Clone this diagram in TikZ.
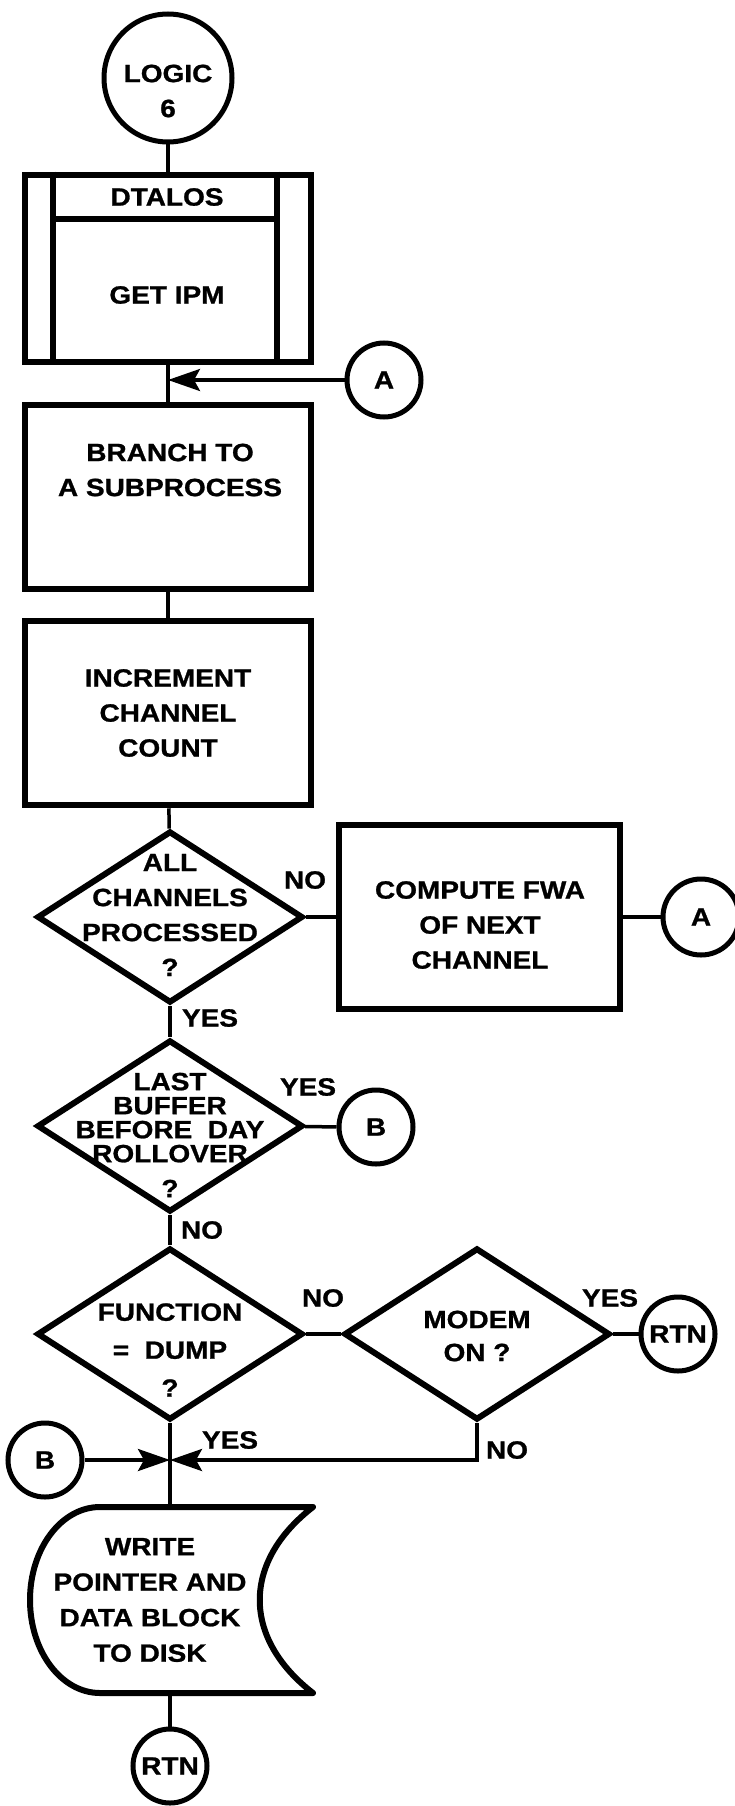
\documentclass[tikz,border=0pt]{standalone}
\usepackage{fontspec}
\setmainfont{Liberation Sans}[FakeStretch=1.12,FakeBold=1]
\usetikzlibrary{shapes.geometric,arrows.meta,calc}
\begin{document}
\begin{tikzpicture}[x=1pt,y=-1pt,
  every node/.style={font=\fontsize{25}{35}\selectfont\bfseries, inner sep=0pt, align=center},
  proc/.style={draw, rectangle, line width=6.5pt, minimum width=286pt, minimum height=184pt},
  dia/.style={draw, diamond, line width=6pt, minimum width=266pt, minimum height=172pt},
  conn/.style={draw, circle, line width=5pt, minimum size=74pt},
  flow/.style={line width=3.5pt},
  arr/.style={flow, -{Stealth[length=32pt,width=22pt,inset=6pt]}},
  inner/.style={line width=6pt}
]
\useasboundingbox (0,0) rectangle (735,1806);

% start
\node[conn, minimum size=128pt] (logic) at (168,78) {};
\node (logict) at (168,91) {LOGIC\\6};

% predefined process
\node[proc, minimum height=187pt] (dtalos) at (168,268.5) {};
\draw[inner] ($(dtalos.north west)+(31,0)$) -- ($(dtalos.south west)+(31,0)$);
\draw[inner] ($(dtalos.north east)+(-37,0)$) -- ($(dtalos.south east)+(-37,0)$);
\draw[inner] ($(dtalos.north west)+(31,47)$) -- ($(dtalos.north east)+(-37,47)$);
\node (dtalost) at (167,197) {DTALOS};
\node (getipm) at (167,295) {GET IPM};

\node[conn] (A1) at (384,380) {A};
\coordinate (jA) at (168,380);

\node[proc] (branch) at (168,497) {};
\node (brancht) at (170,470) {BRANCH TO\\A SUBPROCESS};

\node[proc] (incr) at (168,713) {INCREMENT\\CHANNEL\\COUNT};

% decision 1
\node[dia] (d1) at (170,917) {};
\node (d1t) at (170,915) {ALL\\CHANNELS\\PROCESSED\\?};
\node[proc, minimum width=281pt] (comp) at (479.5,917) {};
\node (compt) at (480,925) {COMPUTE FWA\\OF NEXT\\CHANNEL};
\node[conn, minimum size=76pt] (A2) at (701,917) {A};

% decision 2
\node[dia] (d2) at (170,1126) {};
\node[font=\fontsize{25}{24}\selectfont\bfseries] (d2t) at (170,1135) {LAST\\BUFFER\\BEFORE\ \ DAY\\ROLLOVER\\[11pt]?};
\node[conn] (B1) at (376,1127) {B};

% decision 3 and 4
\node[dia] (d3) at (170,1334) {};
\node[font=\fontsize{25}{38}\selectfont\bfseries] (d3t) at (170,1350) {FUNCTION\\=\ \ DUMP\\?};
\node[dia] (d4) at (477,1334) {};
\node[font=\fontsize{25}{33}\selectfont\bfseries] (d4t) at (477,1336) {MODEM\\ON ?};
\node[conn] (R1) at (678,1334) {RTN};

\coordinate (jB) at (170,1460);
\node[conn] (B2) at (45,1460) {B};

% stored data
\coordinate (disktop) at (170,1507);
\coordinate (diskbot) at (170,1693);
\draw[line width=6pt, line join=round] (100,1507) -- (313,1507)
  .. controls (242,1562) and (242,1638) .. (313,1693) -- (100,1693)
  .. controls (61.3,1693) and (30,1651.4) .. (30,1600)
  .. controls (30,1548.6) and (61.3,1507) .. (100,1507);
\node[font=\fontsize{25}{35.5}\selectfont\bfseries] (diskt) at (150,1600) {WRITE\\POINTER AND\\DATA BLOCK\\TO DISK};
\node[conn] (R2) at (170,1766) {RTN};

% connectors
\draw[flow] (logic) -- (dtalos);
\draw[flow] (dtalos) -- (branch);
\draw[arr] (A1) -- (jA);
\draw[flow] (branch) -- (incr);
\draw[flow] (incr) -- (d1);
\draw[flow] (d1) -- (comp);
\draw[flow] (comp) -- (A2);
\draw[flow] (d1) -- (d2);
\draw[flow] (d2) -- (B1);
\draw[flow] (d2) -- (d3);
\draw[flow] (d3) -- (d4);
\draw[flow] (d4) -- (R1);
\draw[flow] (d3) -- (disktop);
\draw[arr] (B2) -- (jB);
\draw[arr] (d4.south) |- (jB);
\draw[flow] (diskbot) -- (R2);

% branch labels
\node (n1) at (305,880) {NO};
\node (y1) at (210,1018) {YES};
\node (y2) at (308,1087) {YES};
\node (n2) at (202,1230) {NO};
\node (n3) at (323,1298) {NO};
\node (y3) at (610,1298) {YES};
\node (y4) at (230,1440) {YES};
\node (n4) at (507,1450) {NO};
\end{tikzpicture}
\end{document}
